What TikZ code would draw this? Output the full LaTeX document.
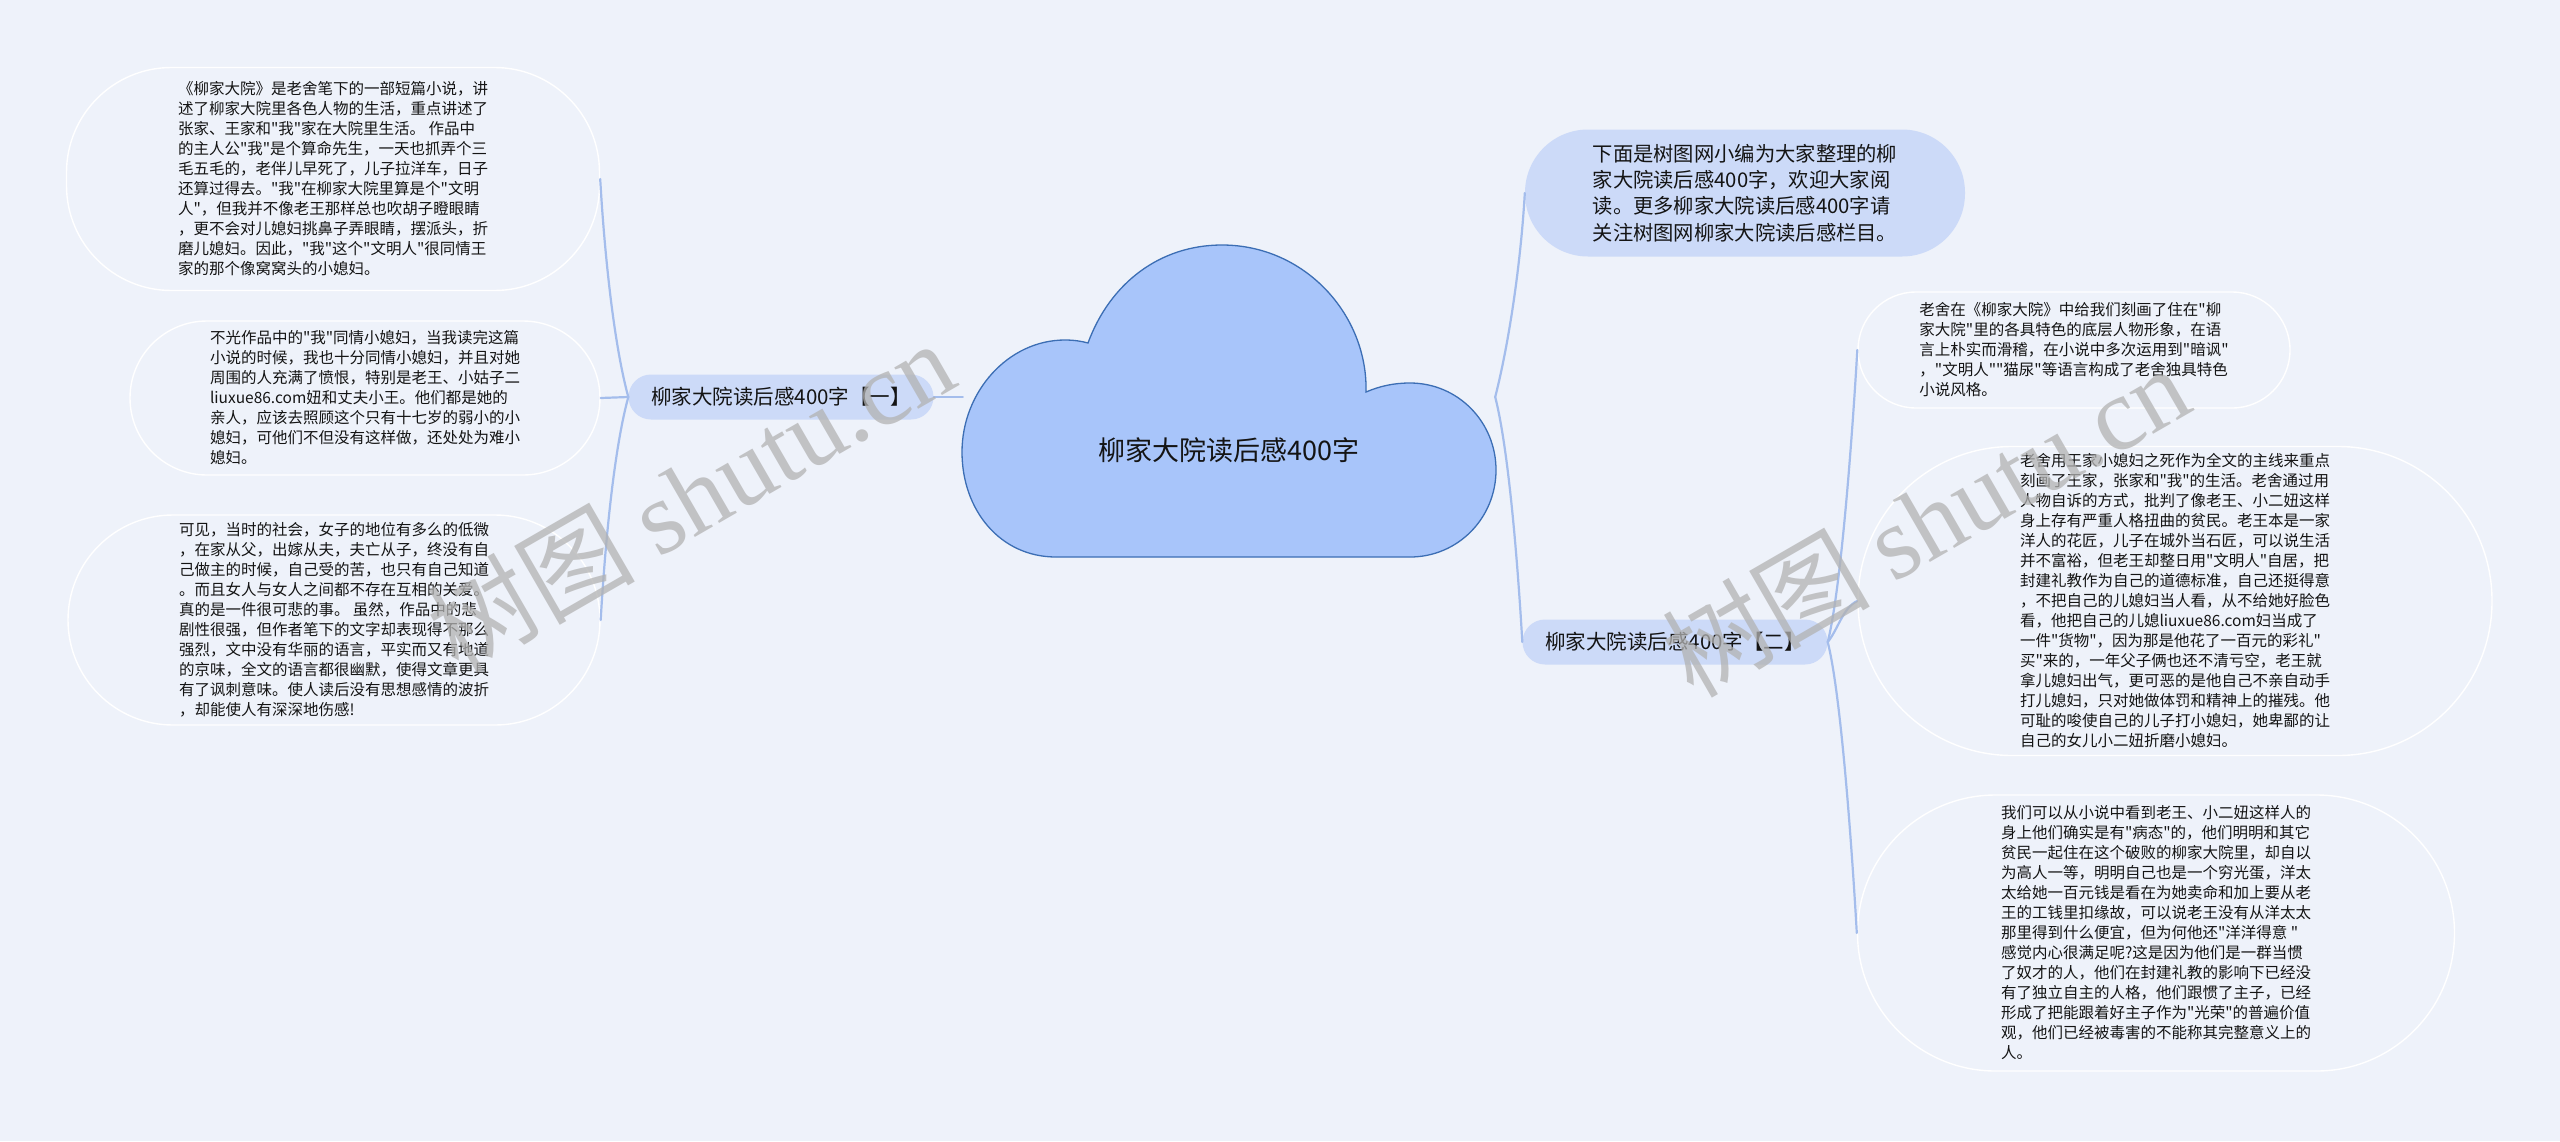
\documentclass[tikz,border=0pt]{standalone}
\usepackage{fontspec}
\setmainfont{Noto Sans CJK SC}[Ligatures=TeXOff]
\newfontfamily\wmserif{Liberation Serif}

\definecolor{bgblue}{HTML}{EEF2FA}
\definecolor{cloudblue}{HTML}{A8C5FA}
\definecolor{cloudedge}{HTML}{3C6EB4}
\definecolor{topicblue}{HTML}{CCDAF8}
\definecolor{linkblue}{HTML}{A4BDEC}
\definecolor{inkgray}{HTML}{141414}

\begin{document}
\begin{tikzpicture}[x=1pt, y=-1pt,
    every node/.style={text=inkgray},
    bubble/.style={draw=white, line width=1.4pt, rounded corners=#1, align=left, inner sep=0pt,
        font=\fontsize{15.5}{20}\selectfont},
    topic/.style={fill=topicblue, rounded corners=22.5pt, minimum width=305pt, minimum height=45pt,
        inner sep=0pt, font=\fontsize{20.5}{24}\selectfont},
    introbox/.style={fill=topicblue, rounded corners=63pt, align=left, inner sep=0pt,
        font=\fontsize{20.3}{26.3}\selectfont},
    rootbox/.style={minimum width=532pt, minimum height=312pt, inner sep=0pt},
    link/.style={draw=linkblue, line width=2.2pt, line cap=round},
    watermark/.style={text=black!30, opacity=0.75, font=\fontsize{104}{110}\selectfont}]

    % fondo
    \fill[bgblue] (0,0) rectangle (2560,1141);
    \useasboundingbox (0,0) rectangle (2560,1141);

    % nube central
    \node[rootbox] (root) at (1229,401) {};
    \filldraw[fill=cloudblue, draw=cloudedge, line width=1.3pt]
        (1056,557) .. controls (1000,557) and (962,510) .. (962,452)
        .. controls (962,392) and (1008,340) .. (1065,340)
        .. controls (1073,340) and (1081,341) .. (1088,343)
        .. controls (1110,283) and (1160,245) .. (1222,245)
        .. controls (1305,245) and (1368,315) .. (1366,392)
        .. controls (1380,386) and (1394,383) .. (1410,383)
        .. controls (1458,383) and (1496,422) .. (1496,470)
        .. controls (1496,518) and (1458,557) .. (1410,557)
        -- cycle;
    \node[font=\fontsize{27}{32}\selectfont] (title) at (1229,450) {柳家大院读后感400字};

    % rama izquierda
    \node[topic] (partone) at (781,397) {柳家大院读后感400字【一】};

    \node[bubble=105pt, minimum width=533pt, minimum height=223pt] (leftA) at (333,179) {%
《柳家大院》是老舍笔下的一部短篇小说，讲\\
述了柳家大院里各色人物的生活，重点讲述了\\
张家、王家和"我"家在大院里生活。 作品中\\
的主人公"我"是个算命先生，一天也抓弄个三\\
毛五毛的，老伴儿早死了，儿子拉洋车，日子\\
还算过得去。"我"在柳家大院里算是个"文明\\
人"，但我并不像老王那样总也吹胡子瞪眼睛\\
，更不会对儿媳妇挑鼻子弄眼睛，摆派头，折\\
磨儿媳妇。因此，"我"这个"文明人"很同情王\\
家的那个像窝窝头的小媳妇。};

    \node[bubble=77pt, minimum width=470pt, minimum height=154pt] (leftB) at (365,398) {%
不光作品中的"我"同情小媳妇，当我读完这篇\\
小说的时候，我也十分同情小媳妇，并且对她\\
周围的人充满了愤恨，特别是老王、小姑子二\\
liuxue86.com妞和丈夫小王。他们都是她的\\
亲人，应该去照顾这个只有十七岁的弱小的小\\
媳妇，可他们不但没有这样做，还处处为难小\\
媳妇。};

    \node[bubble=105pt, minimum width=532pt, minimum height=210pt] (leftC) at (334,620) {%
可见，当时的社会，女子的地位有多么的低微\\
，在家从父，出嫁从夫，夫亡从子，终没有自\\
己做主的时候，自己受的苦，也只有自己知道\\
。而且女人与女人之间都不存在互相的关爱。\\
真的是一件很可悲的事。 虽然，作品中的悲\\
剧性很强，但作者笔下的文字却表现得不那么\\
强烈，文中没有华丽的语言，平实而又有地道\\
的京味，全文的语言都很幽默，使得文章更具\\
有了讽刺意味。使人读后没有思想感情的波折\\
，却能使人有深深地伤感!};

    % rama derecha
    \node[introbox, minimum width=440pt, minimum height=127pt] (intro) at (1745,193) {%
下面是树图网小编为大家整理的柳\\
家大院读后感400字，欢迎大家阅\\
读。更多柳家大院读后感400字请\\
关注树图网柳家大院读后感栏目。};

    \node[topic] (parttwo) at (1675,642) {柳家大院读后感400字【二】};

    \node[bubble=58pt, minimum width=432pt, minimum height=116pt] (rightA) at (2074,350) {%
老舍在《柳家大院》中给我们刻画了住在"柳\\
家大院"里的各具特色的底层人物形象，在语\\
言上朴实而滑稽，在小说中多次运用到"暗讽"\\
，"文明人""猫尿"等语言构成了老舍独具特色\\
小说风格。};

    \node[bubble=154pt, minimum width=634pt, minimum height=309pt] (rightB) at (2175,601) {%
老舍用王家小媳妇之死作为全文的主线来重点\\
刻画了王家，张家和"我"的生活。老舍通过用\\
人物自诉的方式，批判了像老王、小二妞这样\\
身上存有严重人格扭曲的贫民。老王本是一家\\
洋人的花匠，儿子在城外当石匠，可以说生活\\
并不富裕，但老王却整日用"文明人"自居，把\\
封建礼教作为自己的道德标准，自己还挺得意\\
，不把自己的儿媳妇当人看，从不给她好脸色\\
看，他把自己的儿媳liuxue86.com妇当成了\\
一件"货物"，因为那是他花了一百元的彩礼"\\
买"来的，一年父子俩也还不清亏空，老王就\\
拿儿媳妇出气，更可恶的是他自己不亲自动手\\
打儿媳妇，只对她做体罚和精神上的摧残。他\\
可耻的唆使自己的儿子打小媳妇，她卑鄙的让\\
自己的女儿小二妞折磨小媳妇。};

    \node[bubble=138pt, minimum width=597pt, minimum height=276pt] (rightC) at (2156,933) {%
我们可以从小说中看到老王、小二妞这样人的\\
身上他们确实是有"病态"的，他们明明和其它\\
贫民一起住在这个破败的柳家大院里，却自以\\
为高人一等，明明自己也是一个穷光蛋，洋太\\
太给她一百元钱是看在为她卖命和加上要从老\\
王的工钱里扣缘故，可以说老王没有从洋太太\\
那里得到什么便宜，但为何他还"洋洋得意 "\\
感觉内心很满足呢?这是因为他们是一群当惯\\
了奴才的人，他们在封建礼教的影响下已经没\\
有了独立自主的人格，他们跟惯了主子，已经\\
形成了把能跟着好主子作为"光荣"的普遍价值\\
观，他们已经被毒害的不能称其完整意义上的\\
人。};

    % conectores
    \draw[link] (partone.east) -- (partone.east -| root.west);
    \draw[link] (partone.west) .. controls +(-15,-55) and +(4,70) .. (leftA.east);
    \draw[link] (partone.west) -- (leftB.east);
    \draw[link] (partone.west) .. controls +(-15,55) and +(4,-70) .. (leftC.east);

    \coordinate (hub) at (partone.east -| root.east);
    \draw[link] (hub) .. controls +(14,-55) and +(-4,70) .. (intro.west);
    \draw[link] (hub) .. controls +(14,55) and +(-4,-70) .. (parttwo.west);

    \draw[link] (parttwo.east) .. controls +(14,-55) and +(-4,70) .. (rightA.west);
    \draw[link] (parttwo.east) .. controls +(10,-12) and +(-14,6) .. (rightB.west);
    \draw[link] (parttwo.east) .. controls +(14,55) and +(-4,-70) .. (rightC.west);

    % marcas de agua
    \node[watermark, rotate=30] (markleft) at (690,495) {树图 {\wmserif shutu.cn}};
    \node[watermark, rotate=30] (markright) at (1925,520) {树图 {\wmserif shutu.cn}};

\end{tikzpicture}
\end{document}
